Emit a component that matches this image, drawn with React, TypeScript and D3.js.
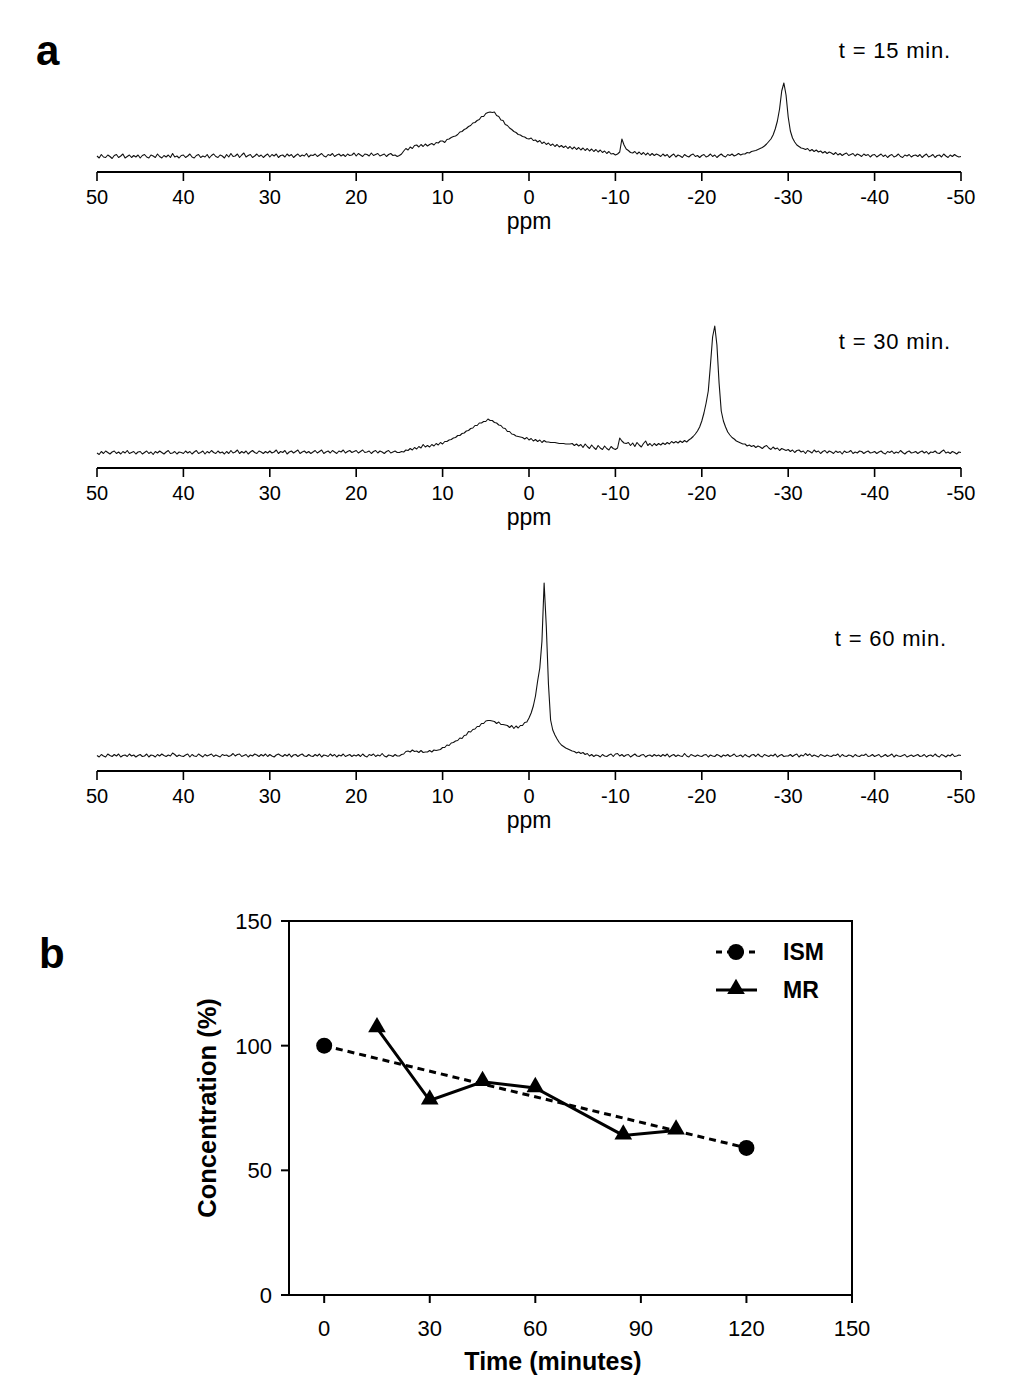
import React from 'react';
import * as d3 from 'd3';

// ppm grid: starts at 50 ppm, step -0.25 ppm (401 points down to -50 ppm)
const ppmStart = 50;
const ppmStep = -0.25;

// intensities (a.u.), one row = 5 ppm
const spectrum15 = [
  1,-1,2.5,0,-0.5,2,0.5,-1.5,1.5,2.5,-0.5,1,3,-1,0.5,2,-0.5,1.5,0,2,
  -1,1.5,2.5,0,-1,2,1,-0.5,3,0.5,-1,1.5,0,2,-0.5,3.5,0,1,-1,1.5,
  2,-0.5,1,3,0,-1,1.5,2.5,-0.5,1,0,2.5,-1,1.5,3,0.5,-0.5,2,1,-1,
  2.5,0,3.5,0.5,1,3,-0.5,2,4,0,1.5,2.5,-0.5,1,3,0.5,2,-0.5,1.5,3,
  0,2.5,1,3,-0.5,1.5,2,0,3,1,2.5,-0.5,1.5,3,0.5,2,1,3.5,0,2,
  1.5,3,0.5,2,3.5,1,0,2.5,1.5,3.5,0.5,2,3,1,2.5,0.5,3,1.5,2,4,
  1,3.5,2,0.5,3,2.5,1,4,1.5,2.5,3.5,1,2,3,0.5,2.5,3.5,1.5,2,0.5,
  1.5,3,6,8.5,7,10,8.5,11.5,12,10,12.5,10.5,13,11,12.5,13.5,12,14.5,14,16,
  16,14.5,17.5,18,19.5,20.5,21,22.5,25,25.5,27.5,28.5,30.5,31.5,34,34.5,36.5,37.5,40.5,40.5,
  43.5,44.5,45,44.5,45,41.5,40.5,37,36.5,32.5,31.5,29,27.5,25.5,24.5,22.5,22,20.5,20,18.5,
  18,19,16.5,17,15,16.5,13.5,15,12.5,14,11.5,13,10.5,12.5,10,11.5,9.5,11,8.5,10.5,
  8,10,7.5,9.5,7,9,6.5,8.5,6,8,5.5,7.5,5,7,4.5,6,3.5,5.5,3,3.5,
  2,3,5,18,12,8,6.5,4.5,4,5.5,3,5,2.5,4.5,2,4,1.5,3.5,1.5,3,
  2,0.5,3,1,2.5,-0.5,1.5,3,0,2,1,-0.5,2.5,1,0,2,3,0.5,1.5,-0.5,
  1.5,2.5,0,1,3,0.5,2,-0.5,1.5,3,1,0,2.5,1.5,3,1,2,3.5,2,3,
  3,4.5,4,5.5,6,6.5,7.5,8.5,9.5,11,13,15.5,18,22,28,36,48,66,74,62,
  40,26,19,15,12,10.5,9,8.5,7.5,8.5,6,7.5,5.5,7,5,6,4,5.5,3.5,5,
  4,2.5,4.5,2,3.5,1.5,3,4,1.5,2.5,3.5,1,3,2,0.5,3,1.5,2.5,0,2,
  2.5,0,1.5,3,0.5,2,-0.5,1.5,2.5,0,1,3,0.5,-0.5,2,1,2.5,0,1.5,2,
  0.5,2.5,-0.5,1.5,3,0,1,2.5,-0.5,1.5,2,0,3,1,-0.5,2,0.5,2.5,1,0,
  0.5,
];

const spectrum30 = [
  0,-1.5,1.5,-0.5,2,0.5,-1,1,2,-0.5,1,-1,1.5,0,2.5,-0.5,0.5,1.5,-1,1,
  1.5,-1,0.5,2,-0.5,1,-1.5,1.5,0,2,0.5,-1,1,2.5,-0.5,0,1.5,-1,1,0.5,
  -0.5,2,0,1.5,-1,1,2.5,-0.5,0.5,2,-1,1.5,0,2.5,0.5,-0.5,2,0,1,-1,
  1.5,-0.5,2.5,0,1,3,-0.5,1.5,0,2,-1,1,2.5,0.5,-0.5,2,1,-0.5,1.5,0,
  2,0,1,3,-0.5,1.5,0.5,2.5,-1,1,2,0,1.5,3,-0.5,1,2,0,1.5,-0.5,
  1,2.5,0,1.5,3,-0.5,1,2,0,2.5,1,-0.5,2,1,3,0,1.5,2.5,0.5,1.5,
  2.5,0,1.5,3,0.5,1,2,-0.5,1.5,2.5,0,2,1,-0.5,1.5,2.5,0,1,2,0.5,
  0.5,1.5,1,3,2.5,4.5,3,5.5,4,6.5,5,8.5,6,7.5,6,8.5,7,9.5,8,10.5,
  9,11.5,11.5,13,13.5,15,15.5,17.5,17.5,19.5,20,22,22.5,24.5,25,27.5,27.5,30,30,31.5,
  31.5,34,32.5,32.5,30.5,30,28,27.5,25,24.5,21.5,21.5,19,18.5,17,16.5,16,15.5,14,15.5,
  13,14.5,12,13.5,11.5,13,10.5,12.5,11,11,10.5,10.5,10.5,10,9.5,9.5,9.5,9,9,9,
  9.5,7.5,9,7,8.5,5.5,9,6.5,4.5,8,5.5,3.5,7.5,5,3.5,7,4.5,3,6.5,4.5,
  3.5,5,15,12,10,9.5,10.5,7.5,10,6.5,10.5,8,6,9.5,12,7.5,9.5,7,9.5,7.5,
  9.5,8,10,8.5,10.5,9,11.5,10,11.5,10,12,10.5,12.5,11,13,14.5,16.5,19,22,26,
  32,40,50,62,88,116,127,108,70,42,32,26,21,18,15.5,14,12,11,10,9,
  9,7,8,6.5,7.5,5.5,7,6,4.5,6.5,7.5,5,3.5,6,4,5,2.5,4.5,3.5,2.5,
  3.5,1.5,3,0.5,2.5,3,1,2,-0.5,2.5,1.5,0,3,1,2,-0.5,1.5,2.5,0,2,
  1,-0.5,2,0.5,1.5,-1,2,0.5,1,2.5,-0.5,1,0,2,1.5,-0.5,1,2,0,0.5,
  1.5,-0.5,1,2,0,-1,1.5,0.5,2,-0.5,1,0,2.5,0.5,-1,1,2,0,0.5,1.5,
  -0.5,1,2,0,1.5,-1,1,0.5,2,0,-0.5,1.5,3,0,1,-0.5,1.5,0.5,-1,1,
  0.5,
];

const spectrum60 = [
  0.5,-1,1.5,0,-1,2,0.5,-0.5,1.5,0,2,-1,0.5,1,-0.5,2,0,1,-1,0.5,
  1.5,-0.5,0,2,-1,1,0.5,-1,1.5,0,2,0.5,-0.5,1,0,3,1.5,-0.5,1,0,
  -0.5,1,2,-1,1.5,0,-0.5,2,0.5,-1,1.5,0,1,2,-0.5,1,0,-1,1.5,0.5,
  1,-0.5,0.5,2.5,0,1.5,2,-0.5,0.5,1.5,-1,1,0,2,1,-0.5,1.5,0,2,-0.5,
  1.5,0,-1,1,2,0.5,-0.5,1.5,0,2,-1,1,1.5,-0.5,1,2,0,-0.5,1.5,0,
  -0.5,1.5,0,2,-1,1,0.5,-0.5,2,0,1.5,-1,1,0,2,-0.5,0.5,1.5,-0.5,1,
  0,1.5,-0.5,2,0,-1,1.5,0.5,2,-0.5,1,0,2.5,0,-1,1,0.5,-0.5,1.5,0,
  0,1.5,2,4.5,5,4,6,4.5,5,3.5,5.5,3.5,4,4,5.5,4,6,5.5,6,6.5,
  8.5,8.5,11,10.5,13,13.5,15,15.5,18,17.5,20.5,21,24.5,24,26.5,27,29.5,29.5,32.5,32.5,
  35,35.5,35.5,35,34.5,32.5,34,31.5,31.5,31,30.5,28.5,30.5,27.5,30,28,30.5,30.5,33.5,34,
  38,43,50,60,75,88,115,173,130,72,36,26,21,17,13.5,11,9.5,8,7,6,
  5,4.5,3,4,2.5,3.5,1.5,2.5,0,1.5,-0.5,1,0.5,-1,1.5,0,-0.5,1,2,-0.5,
  2,2.5,0,1.5,-0.5,1,1.5,-1,0.5,2,0,-0.5,1,1.5,-1,0.5,1,-0.5,1.5,0,
  1,-0.5,1.5,0,2,-1,0.5,1.5,-0.5,1,0,-0.5,2.5,0,-1,1.5,0.5,-0.5,1,0,
  -0.5,1,1.5,-1,1,0,-0.5,1.5,0.5,-1,1,0,1.5,-0.5,0.5,2,-0.5,0,1,-1,
  1.5,0,-1,1,1.5,-0.5,2,0,-1,1.5,0.5,-0.5,1,0,2,-1,0.5,1.5,-0.5,0,
  0,1.5,-0.5,1,2,-1,1,0,2.5,0.5,2,-0.5,1,0,-1,1.5,0.5,-0.5,1,0,
  -0.5,1,0.5,2,-1,1.5,0,-0.5,1,0.5,-1,1.5,0,-0.5,1,0.5,2,-0.5,0,1.5,
  -0.5,0.5,1.5,-1,0,1.5,-0.5,0.5,2,-1,1,0,-0.5,0.5,1.5,-1,0,1,-0.5,0.5,
  1.5,-0.5,0,1.5,-1,0.5,1,-0.5,2,0,-1,1.5,0.5,-1,1,0,2,-0.5,0,1,
  0.5,
];

const spectrumLabels = ['t = 15 min.', 't = 30 min.', 't = 60 min.'];
const ppmTicks = [50, 40, 30, 20, 10, 0, -10, -20, -30, -40, -50];

// panel b
const timeISM = [0, 120];
const concISM = [100, 59];
const timeMR = [15, 30, 45, 60, 85, 100];
const concMR = [107, 78, 85.5, 83, 64, 66];
const timeTicks = [0, 30, 60, 90, 120, 150];
const concTicks = [0, 50, 100, 150];
const legendNames = ['ISM', 'MR'];

const FONT = '"Liberation Sans", Arial, Helvetica, sans-serif';

function Spectrum({ data, axisY, label, labelX, labelY }: { data: number[]; axisY: number; label: string; labelX: number; labelY: number }) {
  const x = d3.scaleLinear().domain([50, -50]).range([97, 961]);
  const y = d3.scaleLinear().domain([-15, 165]).range([axisY, axisY - 180]);
  const line = d3
    .line<number>()
    .x((_, i) => x(ppmStart + ppmStep * i))
    .y((d) => y(d));
  return (
    <g>
      <path d={line(data) || ''} fill="none" stroke="#111" strokeWidth={1.1} strokeLinejoin="round" />
      <line x1={x(50)} x2={x(-50)} y1={axisY} y2={axisY} stroke="#000" strokeWidth={2} />
      {ppmTicks.map((t) => (
        <g key={t}>
          <line x1={x(t)} x2={x(t)} y1={axisY} y2={axisY + 9} stroke="#000" strokeWidth={1.6} />
          <text x={x(t)} y={axisY + 32} textAnchor="middle" fontSize={20} fontFamily={FONT} fill="#000">
            {t}
          </text>
        </g>
      ))}
      <text x={x(0)} y={axisY + 57} textAnchor="middle" fontSize={23} fontFamily={FONT} fill="#000">
        ppm
      </text>
      <text x={labelX} y={labelY} textAnchor="end" fontSize={22} letterSpacing={0.8} fontFamily={FONT} fill="#000">
        {label}
      </text>
    </g>
  );
}

export default function App() {
  const xb = d3.scaleLinear().domain([-10, 150]).range([289, 852]);
  const yb = d3.scaleLinear().domain([0, 150]).range([1295, 921]);
  const ismLine = d3
    .line<number>()
    .x((d) => xb(d))
    .y((_, i) => yb(concISM[i]));
  const mrLine = d3
    .line<number>()
    .x((d) => xb(d))
    .y((_, i) => yb(concMR[i]));
  const tri = d3.symbol().type(d3.symbolTriangle).size(135)() || '';
  const circR = 8;

  return (
    <svg width={1011} height={1394} style={{ position: 'absolute', left: 0, top: 0, background: '#fff' }}>
      <rect x={0} y={0} width={1011} height={1394} fill="#fff" />
      <text x={36} y={65} fontSize={42} fontWeight="bold" fontFamily={FONT}>a</text>
      <text x={39} y={968} fontSize={42} fontWeight="bold" fontFamily={FONT}>b</text>

      <Spectrum data={spectrum15} axisY={172} label={spectrumLabels[0]} labelX={951} labelY={58} />
      <Spectrum data={spectrum30} axisY={468} label={spectrumLabels[1]} labelX={951} labelY={349} />
      <Spectrum data={spectrum60} axisY={771} label={spectrumLabels[2]} labelX={947} labelY={646} />

      {/* panel b */}
      <g>
        <rect x={xb(-10)} y={yb(150)} width={xb(150) - xb(-10)} height={yb(0) - yb(150)} fill="none" stroke="#000" strokeWidth={2} />
        {concTicks.map((t) => (
          <g key={'y' + t}>
            <line x1={xb(-10) - 8} x2={xb(-10)} y1={yb(t)} y2={yb(t)} stroke="#000" strokeWidth={2} />
            <text x={xb(-10) - 17} y={yb(t) + 8} textAnchor="end" fontSize={22} fontFamily={FONT}>
              {t}
            </text>
          </g>
        ))}
        {timeTicks.map((t) => (
          <g key={'x' + t}>
            <line x1={xb(t)} x2={xb(t)} y1={yb(0)} y2={yb(0) + 8} stroke="#000" strokeWidth={2} />
            <text x={xb(t)} y={yb(0) + 41} textAnchor="middle" fontSize={22} fontFamily={FONT}>
              {t}
            </text>
          </g>
        ))}
        <text x={553} y={1370} textAnchor="middle" fontSize={25} fontWeight="bold" fontFamily={FONT}>
          Time (minutes)
        </text>
        <text
          transform={`translate(216, ${(yb(0) + yb(150)) / 2}) rotate(-90)`}
          textAnchor="middle"
          fontSize={25.5}
          fontWeight="bold"
          fontFamily={FONT}
        >
          Concentration (%)
        </text>

        <path d={ismLine(timeISM) || ''} fill="none" stroke="#000" strokeWidth={3} strokeDasharray="7,5" />
        <path d={mrLine(timeMR) || ''} fill="none" stroke="#000" strokeWidth={3} />
        {timeISM.map((t, i) => (
          <circle key={'c' + t} cx={xb(t)} cy={yb(concISM[i])} r={circR} fill="#000" />
        ))}
        {timeMR.map((t, i) => (
          <path key={'t' + t} d={tri} transform={`translate(${xb(t)}, ${yb(concMR[i]) - 1})`} fill="#000" />
        ))}

        {/* legend */}
        <line x1={716} x2={757} y1={952} y2={952} stroke="#000" strokeWidth={3} strokeDasharray="6,5" />
        <circle cx={736} cy={952} r={circR} fill="#000" />
        <text x={783} y={960} fontSize={23} fontWeight="bold" fontFamily={FONT}>{legendNames[0]}</text>
        <line x1={716} x2={757} y1={990} y2={990} stroke="#000" strokeWidth={3} />
        <path d={tri} transform="translate(736, 989)" fill="#000" />
        <text x={783} y={998} fontSize={23} fontWeight="bold" fontFamily={FONT}>{legendNames[1]}</text>
      </g>
    </svg>
  );
}
